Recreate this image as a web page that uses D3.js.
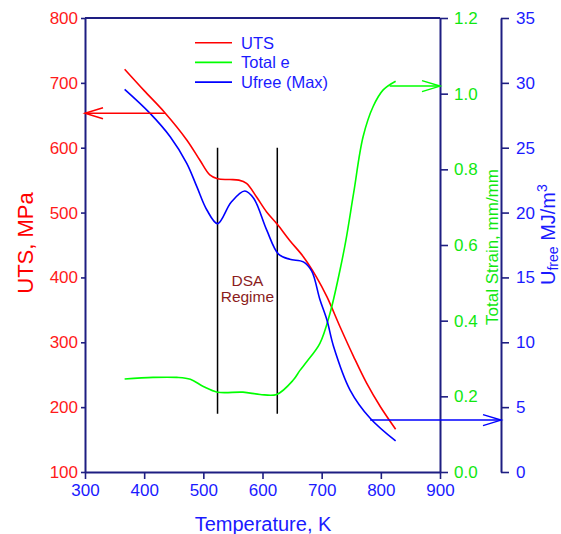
<!DOCTYPE html>
<html>
<head>
<meta charset="utf-8">
<script src="https://cdn.jsdelivr.net/npm/d3@7/dist/d3.min.js"></script>
<style>
  html, body { margin: 0; padding: 0; background: #fff; }
  svg { display: block; font-family: "Liberation Sans", Arial, sans-serif; }
</style>
</head>
<body>
<svg id="chart" width="561" height="534"></svg>
<script>
// Temperature (K) and measured properties
const utsTemp   = [367, 400, 435, 472, 494, 511, 524, 545, 560, 573, 590, 607, 625, 646, 669, 691, 709, 731, 754, 776, 799, 825];
const utsValue  = [721, 688, 654, 612, 581, 558, 552, 551, 550, 545, 524, 501, 482, 457, 432, 401, 370, 324, 278, 237, 201, 166];

const strainTemp  = [367, 415, 455, 478, 500, 524, 567, 596, 624, 652, 663, 675, 697, 714, 731, 741, 754, 770, 787, 804, 825];
const strainValue = [0.246, 0.250, 0.250, 0.245, 0.226, 0.211, 0.211, 0.205, 0.205, 0.243, 0.268, 0.292, 0.340, 0.419, 0.534, 0.613, 0.737, 0.886, 0.966, 1.010, 1.033];

const ufreeTemp  = [367, 410, 444, 472, 489, 506, 524, 547, 570, 585, 607, 627, 646, 669, 683, 697, 709, 720, 748, 782, 825];
const ufreeValue = [29.5, 27.65, 25.85, 23.8, 22.0, 20.2, 19.15, 20.8, 21.66, 21.1, 18.66, 16.8, 16.4, 16.2, 15.5, 13.3, 11.7, 9.7, 6.32, 4.14, 2.39];

// Axis ticks
const tempTicks   = [300, 400, 500, 600, 700, 800, 900];
const utsTicks    = [100, 200, 300, 400, 500, 600, 700, 800];
const strainTicks = [0, 0.2, 0.4, 0.6, 0.8, 1.0, 1.2];
const ufreeTicks  = [0, 5, 10, 15, 20, 25, 30, 35];

// DSA regime boundaries (K) and their vertical extent (MPa)
const dsaBounds = [524, 625];
const dsaSpan   = [190, 600];

// Reading arrows: start point on a curve, pointing to an axis
const utsArrow    = { temp: 435, value: 653 };
const strainArrow = { temp: 815, value: 1.02 };
const ufreeArrow  = { temp: 782, value: 4.0 };

const legendLabels = ["UTS", "Total e", "Ufree (Max)"];

const RED = "#ff0000", GREEN = "#00ff00", BLUE = "#0000ff";
const AXIS = "#1e1e82";
const FONT = '"Liberation Sans", Arial, sans-serif';

const svg = d3.select("#chart");

const x  = d3.scaleLinear().domain([300, 900]).range([85, 440]);
const yL = d3.scaleLinear().domain([100, 800]).range([472, 18]);
const yG = d3.scaleLinear().domain([0, 1.2]).range([472, 18]);
const yB = d3.scaleLinear().domain([0, 35]).range([472, 18]);
const blueAxisX = 501;

// ---- axes ----
function styleAxis(g, color) {
  g.select(".domain").attr("stroke", AXIS).attr("stroke-width", 2);
  g.selectAll(".tick line").attr("stroke", AXIS).attr("stroke-width", 1.6);
  g.selectAll(".tick text").attr("fill", color).attr("font-size", 17).attr("font-family", FONT);
}

svg.append("g").attr("transform", "translate(0,472)")
  .call(d3.axisBottom(x).tickValues(tempTicks).tickFormat(d3.format("d")).tickSize(7).tickSizeOuter(0).tickPadding(5))
  .call(g => styleAxis(g, "#1a1aff"));

svg.append("g").attr("transform", "translate(85,0)")
  .call(d3.axisLeft(yL).tickValues(utsTicks).tickFormat(d3.format("d")).tickSize(4).tickSizeOuter(0).tickPadding(3))
  .call(g => styleAxis(g, "#ff1a1a"));

svg.append("g").attr("transform", "translate(440,0)")
  .call(d3.axisRight(yG).tickValues(strainTicks).tickFormat(d3.format(".1f")).tickSize(8).tickSizeOuter(0).tickPadding(6))
  .call(g => styleAxis(g, "#10e810"));

svg.append("g").attr("transform", `translate(${blueAxisX},0)`)
  .call(d3.axisRight(yB).tickValues(ufreeTicks).tickFormat(d3.format("d")).tickSize(8).tickSizeOuter(0).tickPadding(7))
  .call(g => styleAxis(g, "#1a1aff"));

// top frame line
svg.append("line")
  .attr("x1", x(300)).attr("x2", x(900)).attr("y1", yL(800)).attr("y2", yL(800))
  .attr("stroke", AXIS).attr("stroke-width", 2);

// ---- axis titles ----
svg.append("text")
  .attr("transform", "translate(33,243) rotate(-90)")
  .attr("text-anchor", "middle").attr("fill", RED)
  .attr("font-size", 22).attr("font-family", FONT)
  .text("UTS, MPa");

svg.append("text")
  .attr("x", 263).attr("y", 531)
  .attr("text-anchor", "middle").attr("fill", "#1a1aff")
  .attr("font-size", 20).attr("font-family", FONT)
  .text("Temperature, K");

svg.append("text")
  .attr("transform", "translate(497.5,247) rotate(-90)")
  .attr("text-anchor", "middle").attr("fill", "#10e810")
  .attr("font-size", 17).attr("font-family", FONT)
  .text("Total Strain, mm/mm");

const uTitle = svg.append("text")
  .attr("transform", "translate(555,285) rotate(-90)")
  .attr("text-anchor", "start").attr("fill", "#1a1aff")
  .attr("font-size", 20).attr("font-family", FONT);
uTitle.append("tspan").text("U");
uTitle.append("tspan").attr("font-size", 14).attr("dy", 2.5).text("free");
uTitle.append("tspan").attr("dy", -2.5).text(" MJ/m");
uTitle.append("tspan").attr("font-size", 14).attr("dy", -8).text("3");

// ---- DSA regime ----
dsaBounds.forEach(t => {
  svg.append("line")
    .attr("x1", x(t)).attr("x2", x(t))
    .attr("y1", yL(dsaSpan[0])).attr("y2", yL(dsaSpan[1]))
    .attr("stroke", "#000").attr("stroke-width", 1.5);
});
const dsaMid = x((dsaBounds[0] + dsaBounds[1]) / 2);
svg.append("text").attr("x", dsaMid).attr("y", 286)
  .attr("text-anchor", "middle").attr("fill", "#8b1c1c")
  .attr("font-size", 15.5).attr("font-family", FONT).text("DSA");
svg.append("text").attr("x", dsaMid).attr("y", 302)
  .attr("text-anchor", "middle").attr("fill", "#8b1c1c")
  .attr("font-size", 15.5).attr("font-family", FONT).text("Regime");

// ---- curves ----
function drawSeries(temps, values, yScale, color) {
  const pts = temps.map((t, i) => [t, values[i]]);
  const line = d3.line()
    .x(d => x(d[0])).y(d => yScale(d[1]))
    .curve(d3.curveCatmullRom.alpha(0.5));
  svg.append("path").datum(pts)
    .attr("d", line)
    .attr("fill", "none").attr("stroke", color).attr("stroke-width", 1.6);
}
drawSeries(utsTemp, utsValue, yL, RED);
drawSeries(strainTemp, strainValue, yG, GREEN);
drawSeries(ufreeTemp, ufreeValue, yB, BLUE);

// ---- arrows ----
function arrow(x1, y1, x2, y2, color) {
  const g = svg.append("g").attr("stroke", color).attr("stroke-width", 1.5).attr("fill", "none");
  g.append("line").attr("x1", x1).attr("y1", y1).attr("x2", x2).attr("y2", y2);
  const dir = Math.sign(x2 - x1);
  const len = 18, half = 5.5;
  g.append("path").attr("d",
    `M${x2 - dir * len},${y2 - half} L${x2},${y2} L${x2 - dir * len},${y2 + half}`);
}
arrow(x(utsArrow.temp), yL(utsArrow.value), x(300), yL(utsArrow.value), RED);
arrow(x(strainArrow.temp), yG(strainArrow.value), x(900), yG(strainArrow.value), GREEN);
arrow(x(ufreeArrow.temp), yB(ufreeArrow.value), blueAxisX, yB(ufreeArrow.value), BLUE);

// ---- legend ----
const legendColors = [RED, GREEN, BLUE];
const legend = svg.append("g");
legendLabels.forEach((lab, i) => {
  const cy = 42.7 + i * 19.7;
  legend.append("line").attr("x1", 195).attr("x2", 232).attr("y1", cy).attr("y2", cy)
    .attr("stroke", legendColors[i]).attr("stroke-width", 1.6);
  legend.append("text").attr("x", 241).attr("y", cy + 6)
    .attr("fill", "#1a1aff").attr("font-size", 16.5).attr("font-family", FONT)
    .text(lab);
});
</script>
</body>
</html>
